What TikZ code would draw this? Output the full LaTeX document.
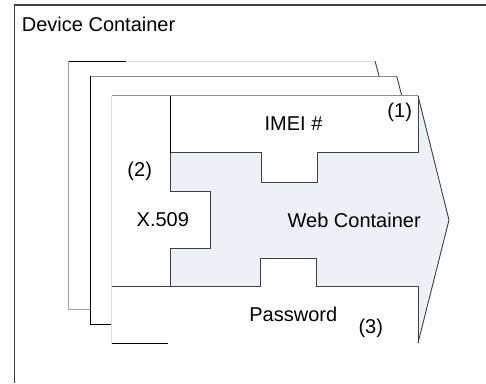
\documentclass[tikz,border=0pt]{standalone}
\usepackage{fontspec}
\setmainfont{Liberation Sans}
\definecolor{webfill}{RGB}{237,240,245}
\definecolor{edge}{RGB}{64,64,64}
\definecolor{midgray}{RGB}{140,140,140}
\definecolor{lightgray2}{RGB}{200,200,200}
\definecolor{palegray}{RGB}{220,220,220}
\tikzset{
  lbl/.style={font=\fontsize{20}{24}\selectfont, inner sep=0pt, anchor=center},
  edgeline/.style={draw=edge, line width=0.9pt},
  blackline/.style={draw=black, line width=0.9pt},
  frameline/.style={draw=edge, line width=1.2pt}
}
\begin{document}
\begin{tikzpicture}[x=1pt, y=-1pt]
\useasboundingbox[fill=white] (0,0) rectangle (486,383);
% outer device container
\draw[frameline] (14.5,383) -- (14.5,5) -- (486,5);
% back frame 1
\draw[blackline] (68,61) -- (126,61);
\draw[draw=palegray, line width=0.9pt] (126,61) -- (375,61);
\draw[edgeline] (375,61) -- (379,76);
\draw[draw=lightgray2!80!black, line width=0.9pt] (68,61) -- (68,309) -- (90.7,309);
% back frame 2
\draw[draw=midgray, line width=0.9pt] (90.7,76) -- (396.7,76);
\draw[edgeline] (396.7,76) -- (401.7,95.7);
\draw[blackline] (90.7,76) -- (90.7,324) -- (111.7,324);
% front frame: web container arrow
\fill[webfill] (111.7,95.7) -- (418,95.7) -- (449,220) -- (418,343) -- (111.7,343) -- cycle;
% white blocks
\fill[white] (111.7,95.7) -- (418,95.7) -- (418,152.7) -- (317.7,152.7) -- (317.7,182.7) -- (261.7,182.7) -- (261.7,152.7) -- (170.7,152.7) -- (170.7,191.7) -- (210,191.7) -- (210,248.3) -- (170.7,248.3) -- (170.7,286) -- (260.7,286) -- (260.7,258.3) -- (316.7,258.3) -- (316.7,286) -- (418,286) -- (418,343) -- (111.7,343) -- cycle;
\draw[draw=midgray, line width=0.9pt] (111.7,95.7) -- (418,95.7);
\draw[draw=palegray, line width=0.9pt] (111.7,95.7) -- (111.7,343);
\draw[blackline] (111.7,343) -- (168,343);
\draw[edgeline] (418,95.7) -- (449,220) -- (418,343);
% IMEI block edges
\draw[blackline] (170.7,95.7) -- (170.7,152.7);
\draw[edgeline] (170.7,152.7) -- (261.7,152.7) -- (261.7,182.7) -- (317.7,182.7) -- (317.7,152.7) -- (418,152.7) -- (418,95.7);
% X.509 block edges
\draw[edgeline] (170.7,152.7) -- (170.7,191.7) -- (210,191.7) -- (210,248.3) -- (170.7,248.3) -- (170.7,286);
% Password block edges
\draw[edgeline] (111.7,286) -- (260.7,286) -- (260.7,258.3) -- (316.7,258.3) -- (316.7,286) -- (418,286) -- (418,343);
% labels
\node[lbl, anchor=west] (dev) at (21.7,24.3) {Device Container};
\node[lbl] (imei) at (293.5,124) {IMEI \#};
\node[lbl] (one) at (399.7,112.3) {(1)};
\node[lbl] (two) at (139.7,171.7) {(2)};
\node[lbl] (x509) at (162.8,220) {X.509};
\node[lbl] (web) at (354.2,220) {Web Container};
\node[lbl] (pwd) at (293.3,314.3) {Password};
\node[lbl] (three) at (370.8,328.3) {(3)};
\end{tikzpicture}
\end{document}
